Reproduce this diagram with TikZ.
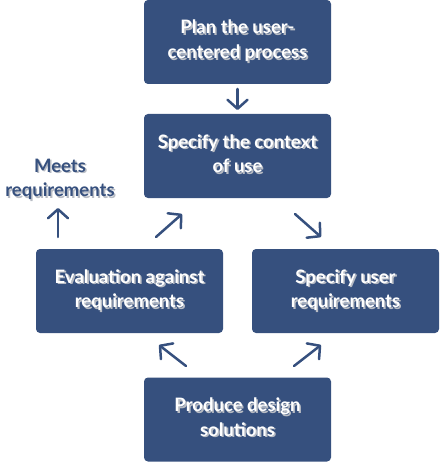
\documentclass[tikz,border=0pt]{standalone}
\usepackage{fontspec}
\setmainfont{Lato}
\usetikzlibrary{arrows.meta}
\definecolor{boxblue}{HTML}{36507E}
\definecolor{shadowgray}{HTML}{B8BCC4}
\newcommand{\fstrut}{\rule{0pt}{14pt}}
\tikzset{
  box/.style={fill=boxblue, rounded corners=4pt, inner sep=0pt, minimum width=187pt, minimum height=84pt},
  lbl/.style={font=\fontsize{18.5}{24.5}\selectfont\bfseries, align=center, inner sep=0pt, anchor=north},
  txt/.style={lbl, text=white},
  shtxt/.style={lbl, text=shadowgray},
  btxt/.style={lbl, text=boxblue},
  flow/.style={draw=boxblue, line width=2.5pt, line cap=round, -{Straight Barb[length=9pt,width=20pt,line cap=round,line join=round]}},
}
\begin{document}
\begin{tikzpicture}[x=1pt,y=-1pt]
\useasboundingbox (0,0) rectangle (439,462);
% boxes
\node[box] (plan) at (237.5,42) {};
\node[box] (ctx) at (237.5,156) {};
\node[box] (eval) at (129.5,291) {};
\node[box] (user) at (345.5,291) {};
\node[box] (prod) at (237.5,419.5) {};
% shadows
\node[shtxt] at ([shift={(1.6pt,-21.6pt)}]plan.north) {\fstrut Plan the user-\\centered process};
\node[shtxt] at ([shift={(1.6pt,-21.6pt)}]ctx.north) {\fstrut Specify the context\\of use};
\node[shtxt] at ([shift={(1.6pt,-21.6pt)}]eval.north) {\fstrut Evaluation against\\requirements};
\node[shtxt] at ([shift={(1.6pt,-21.6pt)}]user.north) {\fstrut Specify user\\requirements};
\node[shtxt] at ([shift={(1.6pt,-21.6pt)}]prod.north) {\fstrut Produce design\\solutions};
% texts
\node[txt] (plant) at ([yshift=-20pt]plan.north) {\fstrut Plan the user-\\centered process};
\node[txt] (ctxt) at ([yshift=-20pt]ctx.north) {\fstrut Specify the context\\of use};
\node[txt] (evalt) at ([yshift=-20pt]eval.north) {\fstrut Evaluation against\\requirements};
\node[txt] (usert) at ([yshift=-20pt]user.north) {\fstrut Specify user\\requirements};
\node[txt] (prodt) at ([yshift=-20pt]prod.north) {\fstrut Produce design\\solutions};
% meets requirements
\node[shtxt] at (61.6,159.6) {\fstrut Meets\\requirements};
\node[btxt] (meets) at (60,158) {\fstrut Meets\\requirements};
% connector endpoints
\coordinate (a1s) at (237.5,89); \coordinate (a1e) at (237.5,110);
\coordinate (a2s) at (58,237); \coordinate (a2e) at (58,208);
\coordinate (a3s) at (156,237); \coordinate (a3e) at (182,214);
\coordinate (a4s) at (295,214); \coordinate (a4e) at (321,237);
\coordinate (a5s) at (186,366); \coordinate (a5e) at (159,345);
\coordinate (a6s) at (294,366); \coordinate (a6e) at (321,345);
\draw[flow] (a1s) -- (a1e);
\draw[flow] (a2s) -- (a2e);
\draw[flow] (a3s) -- (a3e);
\draw[flow] (a4s) -- (a4e);
\draw[flow] (a5s) -- (a5e);
\draw[flow] (a6s) -- (a6e);
\end{tikzpicture}
\end{document}
